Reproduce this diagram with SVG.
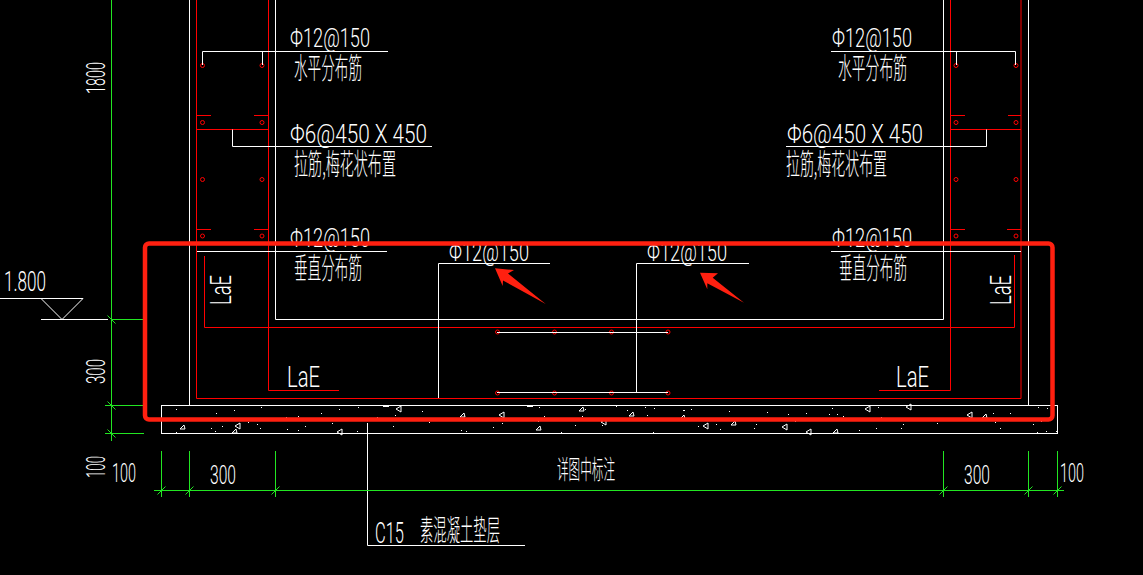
<svg xmlns="http://www.w3.org/2000/svg" xmlns:xlink="http://www.w3.org/1999/xlink" width="1143" height="575" viewBox="0 0 1143 575">
<style>
.w{fill:none;stroke:#fff;stroke-width:1}
.r{fill:none;stroke:#f00;stroke-width:1}
.g{fill:none;stroke:#22e622;stroke-width:1}
.rd{fill:none;stroke:#f00;stroke-width:1}
.t{fill:#fff;font-family:"Roboto","Liberation Sans",sans-serif;font-weight:300;font-size:26px}
.c{fill:#fff;font-family:"Noto Sans CJK SC",sans-serif;font-weight:300;font-size:29px}
.sp{fill:#fff}
.tr{fill:none;stroke:#fff;stroke-width:1}
</style>
<defs>
<circle id="d" class="rd" r="2"/>
<path id="tv" class="g" d="M-4 -4L4 4"/>
<path id="th" class="g" d="M-4 4L4 -4"/>
<path id="k" class="tr" d="M-3 2L1 -2L2 2Z"/>
<path id="k2" class="tr" d="M-3 0L2 -3L2 3Z"/>
</defs>
<rect width="1143" height="575" fill="#000"/>

<g id="wall">
<path class="w" d="M189.5 0V405M275.5 0V319.5H943.5V0M1028.5 0V405"/>
<rect class="w" x="161.5" y="405.5" width="896" height="28"/>
</g>

<g id="rebar">
<path class="r" d="M196.5 0V398.5H1021V0M268.5 0V390.5H339M950.5 0V390.5H879"/>
<path class="r" d="M204.5 256V327.5H1014.5V255"/>
<path class="r" d="M196.5 129.5H268.5M196.5 115.5H211M254 115.5H268.5M196.5 229.5H211M254 229.5H268.5"/>
<path class="r" d="M950.5 129.5H1021M950.5 115.5H965M1008 115.5H1021M950.5 229.5H965M1007 229.5H1021"/>
<g id="rebar-dots">
<use href="#d" x="202.5" y="65.5"/><use href="#d" x="262" y="65.5"/>
<use href="#d" x="202.5" y="122.5"/><use href="#d" x="262" y="122.5"/>
<use href="#d" x="202.5" y="179.5"/><use href="#d" x="262" y="179.5"/>
<use href="#d" x="202.5" y="236"/><use href="#d" x="262" y="236"/>
<use href="#d" x="956" y="65.5"/><use href="#d" x="1016" y="65.5"/>
<use href="#d" x="956" y="122.5"/><use href="#d" x="1016" y="122.5"/>
<use href="#d" x="956" y="179.5"/><use href="#d" x="1016" y="179.5"/>
<use href="#d" x="956" y="236"/><use href="#d" x="1016" y="236"/>
<use href="#d" x="497.5" y="332"/><use href="#d" x="554.5" y="332"/><use href="#d" x="611.5" y="332"/><use href="#d" x="668" y="332"/>
<use href="#d" x="497.5" y="393"/><use href="#d" x="554.5" y="393"/><use href="#d" x="611.5" y="393"/><use href="#d" x="668" y="393"/>
</g>
</g>

<g id="connectors">
<path class="w" d="M202.5 65V51.5H388M262.5 51.5V65M232.5 129.5V146.5H432M197 251.5H387"/>
<path class="w" d="M1015.5 65V51.5H831M956.5 51.5V65M986.5 129.5V146.5H786M1021 251.5H831"/>
<path class="w" d="M438.5 398V263.5H550M636.5 392.5V263.5H749M497 332.5H668M497 392.5H668"/>
<path class="w" d="M367.5 423V545.5H525"/>
<path class="w" d="M0 298.5H83L62 319.5L41 298.5M41 319.5H108"/>
</g>

<g id="concrete-speckle">
<path class="sp" d="M176 409h1v1h-1zM216 413h1v1h-1zM234 410h1v1h-1zM261 407h1v1h-1zM286 417h1v1h-1zM298 416h1v1h-1zM321 413h1v1h-1zM339 409h1v1h-1zM358 407h1v1h-1zM377 417h1v1h-1zM395 415h1v1h-1zM422 411h1v1h-1zM211 428h1v1h-1zM215 431h1v1h-1zM222 426h1v1h-1zM248 422h1v1h-1zM257 424h1v1h-1zM260 428h1v1h-1zM287 429h1v1h-1zM298 430h1v1h-1zM305 426h1v1h-1zM332 423h1v1h-1zM357 431h1v1h-1zM393 426h1v1h-1zM429 422h1v1h-1zM461 430h1v1h-1zM466 431h1v1h-1zM176 432h1v1h-1zM539 407h1v1h-1zM544 416h1v1h-1zM585 409h1v1h-1zM582 416h1v1h-1zM616 406h1v1h-1zM627 410h1v1h-1zM645 407h1v1h-1zM654 408h1v1h-1zM647 415h1v1h-1zM691 409h1v1h-1zM729 411h1v1h-1zM767 412h1v1h-1zM502 423h1v1h-1zM493 427h1v1h-1zM538 421h1v1h-1zM575 425h1v1h-1zM602 425h1v1h-1zM561 432h1v1h-1zM653 432h1v1h-1zM698 426h1v1h-1zM716 424h1v1h-1zM720 429h1v1h-1zM756 424h1v1h-1zM754 428h1v1h-1zM788 414h1v1h-1zM806 413h1v1h-1zM795 421h1v1h-1zM829 414h1v1h-1zM837 414h1v1h-1zM843 416h1v1h-1zM832 408h1v1h-1zM878 407h1v1h-1zM881 417h1v1h-1zM993 413h1v1h-1zM1010 413h1v1h-1zM1038 407h1v1h-1zM1047 408h1v1h-1zM859 430h1v1h-1zM876 428h1v1h-1zM901 428h1v1h-1zM903 424h1v1h-1zM937 423h1v1h-1zM995 422h1v1h-1zM1000 428h1v1h-1zM1033 424h1v1h-1zM1041 421h1v1h-1zM1037 432h1v1h-1zM1046 431h1v1h-1zM1056 431h1v1h-1zM383 406h6v1h-6zM527 406h6v1h-6zM683 410h2v1h-2z"/>
<use href="#k" x="183" y="427"/><use href="#k2" x="238" y="426"/><use href="#k" x="235" y="431"/><use href="#k2" x="340" y="432"/><use href="#k2" x="399" y="409"/><use href="#k" x="463" y="415"/>
<use href="#k2" x="502" y="415"/><use href="#k" x="582" y="409"/><use href="#k" x="632" y="414"/><use href="#k" x="683" y="417"/><use href="#k" x="539" y="428"/><use href="#k2" x="604" y="422"/><use href="#k2" x="706" y="426"/><use href="#k" x="734" y="423"/>
<use href="#k2" x="868" y="409"/><use href="#k2" x="909" y="407"/><use href="#k2" x="970" y="415"/><use href="#k" x="985" y="416"/><use href="#k2" x="785" y="427"/><use href="#k2" x="809" y="432"/><use href="#k" x="836" y="431"/>
</g>

<g id="dimensions">
<path class="g" d="M111.5 0V441M111 319.5H143M105 405.5H143M105 433.5H144"/>
<path class="g" d="M154 490.5H1064M161.5 451V497M189.5 451V497M275.5 451V497M943.5 451V497M1028.5 451V497M1057.5 451V497"/>
<use href="#tv" x="111.5" y="319.5"/><use href="#tv" x="111.5" y="405.5"/><use href="#tv" x="111.5" y="433.5"/>
<use href="#th" x="161.5" y="490.5"/><use href="#th" x="189.5" y="490.5"/><use href="#th" x="275.5" y="490.5"/><use href="#th" x="943.5" y="490.5"/><use href="#th" x="1028.5" y="490.5"/><use href="#th" x="1057.5" y="490.5"/>
</g>

<g id="labels">
<text class="t" x="290" y="47" textLength="80" lengthAdjust="spacingAndGlyphs">Φ12@150</text>
<text class="c" x="294" y="79" textLength="68" lengthAdjust="spacingAndGlyphs">水平分布筋</text>
<text class="t" x="290" y="143" textLength="137" lengthAdjust="spacingAndGlyphs">Φ6@450 X 450</text>
<text class="c" x="294" y="175" textLength="102" lengthAdjust="spacingAndGlyphs">拉筋,梅花状布置</text>
<text class="t" x="290" y="247" textLength="80" lengthAdjust="spacingAndGlyphs">Φ12@150</text>
<text class="c" x="294" y="279" textLength="68" lengthAdjust="spacingAndGlyphs">垂直分布筋</text>
<text class="t" x="449" y="260.5" textLength="80" lengthAdjust="spacingAndGlyphs">Φ12@150</text>
<text class="t" x="647" y="260.5" textLength="80" lengthAdjust="spacingAndGlyphs">Φ12@150</text>
<text class="t" x="832" y="47" textLength="80" lengthAdjust="spacingAndGlyphs">Φ12@150</text>
<text class="c" x="838" y="79" textLength="69" lengthAdjust="spacingAndGlyphs">水平分布筋</text>
<text class="t" x="787" y="143" textLength="136" lengthAdjust="spacingAndGlyphs">Φ6@450 X 450</text>
<text class="c" x="786" y="175" textLength="101" lengthAdjust="spacingAndGlyphs">拉筋,梅花状布置</text>
<text class="t" x="832" y="247" textLength="80" lengthAdjust="spacingAndGlyphs">Φ12@150</text>
<text class="c" x="839" y="279" textLength="68" lengthAdjust="spacingAndGlyphs">垂直分布筋</text>
<text class="t" x="287" y="387" textLength="33" lengthAdjust="spacingAndGlyphs" style="font-size:30px">LaE</text>
<text class="t" x="896" y="387" textLength="33" lengthAdjust="spacingAndGlyphs" style="font-size:30px">LaE</text>
<text class="t" transform="translate(231 305) rotate(-90)" textLength="30" lengthAdjust="spacingAndGlyphs" style="font-size:30px">LaE</text>
<text class="t" transform="translate(1011 305) rotate(-90)" textLength="30" lengthAdjust="spacingAndGlyphs" style="font-size:30px">LaE</text>
<text class="t" transform="translate(105 94) rotate(-90)" textLength="32" lengthAdjust="spacingAndGlyphs">1800</text>
<text class="t" transform="translate(105 384) rotate(-90)" textLength="25" lengthAdjust="spacingAndGlyphs">300</text>
<text class="t" transform="translate(105 478) rotate(-90)" textLength="22" lengthAdjust="spacingAndGlyphs">100</text>
<text class="t" x="4" y="291" textLength="42" lengthAdjust="spacingAndGlyphs" style="font-size:28px">1.800</text>
<text class="t" x="112" y="482" textLength="24" lengthAdjust="spacingAndGlyphs">100</text>
<text class="t" x="210" y="484" textLength="26" lengthAdjust="spacingAndGlyphs">300</text>
<text class="t" x="964" y="484" textLength="26" lengthAdjust="spacingAndGlyphs">300</text>
<text class="t" x="1060" y="482" textLength="24" lengthAdjust="spacingAndGlyphs">100</text>
<text class="c" x="557" y="479" textLength="58" lengthAdjust="spacingAndGlyphs" style="font-size:26px">详图中标注</text>
<text class="t" x="375" y="543" textLength="29" lengthAdjust="spacingAndGlyphs" style="font-size:30px">C15</text>
<text class="c" x="420" y="541" textLength="80" lengthAdjust="spacingAndGlyphs">素混凝土垫层</text>
</g>

<g id="annotation">
<rect x="145" y="243.5" width="907.5" height="176" rx="4" fill="none" stroke="#ff2010" stroke-width="4.5"/>
<path fill="#ff2010" d="M495 268.3L514 270L508 273.5L545.7 304L503 280.5L502.7 286Z"/>
<path fill="#ff2010" d="M700 272.7L718 273.3L712.7 277.7L744 302.7L707.3 283.3L707.3 289.3Z"/>
</g>
</svg>
